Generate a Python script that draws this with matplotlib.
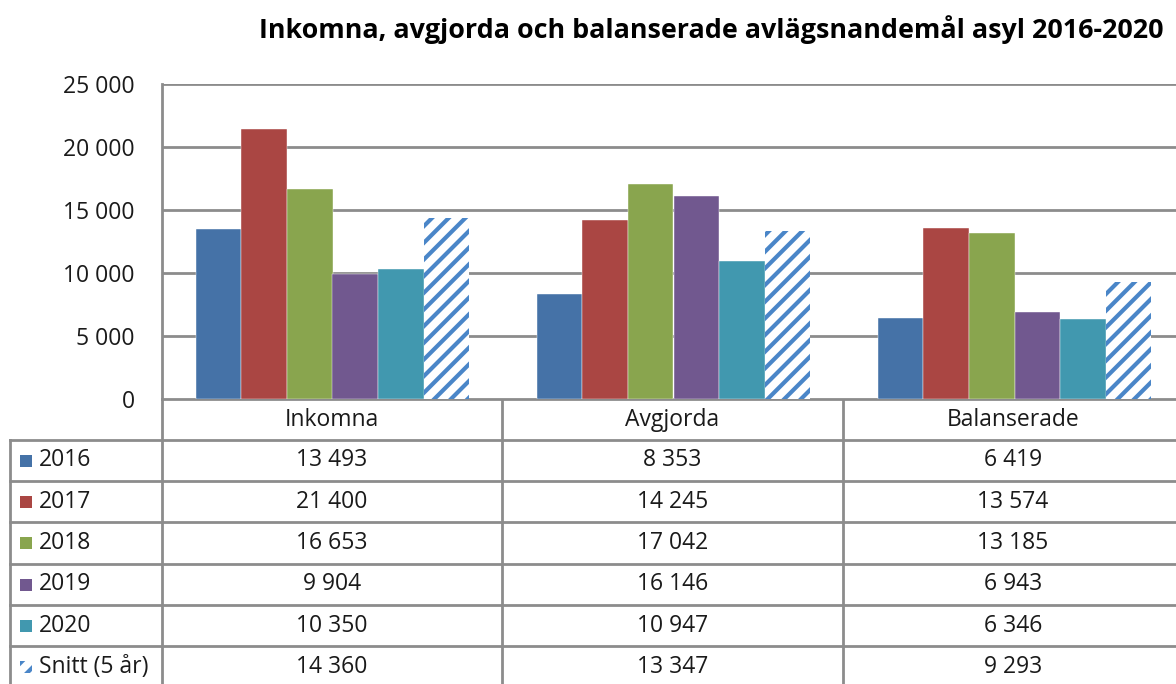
import matplotlib
matplotlib.use("Agg")
import matplotlib.pyplot as plt
from matplotlib.patches import Rectangle
import numpy as np

categories = ["Inkomna", "Avgjorda", "Balanserade"]
series_names = ["2016", "2017", "2018", "2019", "2020", "Snitt (5 år)"]
v2016 = [13493, 8353, 6419]
v2017 = [21400, 14245, 13574]
v2018 = [16653, 17042, 13185]
v2019 = [9904, 16146, 6943]
v2020 = [10350, 10947, 6346]
vsnitt = [14360, 13347, 9293]
series_values = [v2016, v2017, v2018, v2019, v2020, vsnitt]
yticks = [0, 5000, 10000, 15000, 20000, 25000]
title = "Inkomna, avgjorda och balanserade avlägsnandemål asyl 2016-2020"

colors = ["#4572A7", "#AA4643", "#89A54E", "#71588F", "#4198AF"]
hatch_color = "#4A86C8"
grid_color = "#8C8C8C"
FONT = "Open Sans"
FS = 16.5
TFS = 19.4

plt.rcParams["font.family"] = [FONT, "DejaVu Sans"]
plt.rcParams["hatch.linewidth"] = 3.0
plt.rcParams["text.color"] = "#1a1a1a"

W, H = 1176, 684
fig = plt.figure(figsize=(W / 100, H / 100), dpi=100)

def fx(px):
    return px / W

def fy(py):
    return 1 - py / H

# pixel layout
left, right, top, bottom = 162, 1185, 84, 399

# background overlay axes in pixel coords for table
tab = fig.add_axes([0, 0, 1, 1])
tab.set_xlim(0, W)
tab.set_ylim(H, 0)
tab.axis("off")

ax = fig.add_axes([fx(left), fy(bottom), fx(right - left), (bottom - top) / H])
ax.set_xlim(0, 3)
ax.set_ylim(0, 25000)
ax.set_yticks(yticks)
ax.set_yticklabels([f"{t:,}".replace(",", " ") for t in yticks], fontsize=FS, color="#1a1a1a")
ax.tick_params(axis="y", length=0, pad=19.5)
ax.set_xticks([])
for s in ["top", "right", "bottom"]:
    ax.spines[s].set_visible(False)
ax.spines["left"].set_color(grid_color)
ax.spines["left"].set_linewidth(2)
ax.yaxis.grid(True, color=grid_color, linewidth=2)
ax.set_axisbelow(True)

bw = 0.1335
n = len(series_values)
x = np.arange(len(categories)) + 0.5
for i, vals in enumerate(series_values):
    pos = x + (i - (n - 1) / 2) * bw
    if i < 5:
        ax.bar(pos, vals, width=bw, color=colors[i], edgecolor="white", linewidth=0.3)
    else:
        ax.bar(pos, vals, width=bw, color="white", edgecolor=hatch_color, linewidth=0, hatch="//")

fig.text(fx(711), fy(30), title, ha="center", va="center", fontsize=TFS, fontweight="bold",
         color="black")

# table
lc = grid_color
lw = 2
row_edges = [399, 440, 481, 522, 564, 605, 646, 690]
col_edges = [10, 162, 502, 843, 1185]
# horizontal lines
tab.plot([col_edges[1], W], [row_edges[0]] * 2, color=lc, lw=lw)
for ry in row_edges[1:-1]:
    tab.plot([col_edges[0], W], [ry, ry], color=lc, lw=lw)
# vertical lines
tab.plot([col_edges[0]] * 2, [row_edges[1], H], color=lc, lw=lw)
tab.plot([col_edges[1]] * 2, [row_edges[0], H], color=lc, lw=lw)
for cx in col_edges[2:4]:
    tab.plot([cx, cx], [row_edges[0], H], color=lc, lw=lw)

centers = [(col_edges[j + 1] + col_edges[j + 2]) / 2 for j in range(3)]
centers[2] = 1013
hy = (row_edges[0] + row_edges[1]) / 2
for j, c in enumerate(categories):
    tab.text(centers[j], hy, c, ha="center", va="center", fontsize=FS)

for i, (name, vals) in enumerate(zip(series_names, series_values)):
    cy = (row_edges[i + 1] + row_edges[i + 2]) / 2
    if i == len(series_names) - 1:
        cy = 667
    if i < 5:
        tab.add_patch(Rectangle((20, cy - 6), 12, 12, facecolor=colors[i], edgecolor="none"))
    else:
        tab.add_patch(Rectangle((20, cy - 6), 12, 12, facecolor="white", edgecolor=hatch_color,
                                linewidth=0, hatch="//"))
    tab.text(39, cy, name, ha="left", va="center", fontsize=FS)
    for j, v in enumerate(vals):
        tab.text(centers[j], cy, f"{v:,}".replace(",", " "), ha="center", va="center", fontsize=FS)

fig.savefig("out.png", dpi=100)
